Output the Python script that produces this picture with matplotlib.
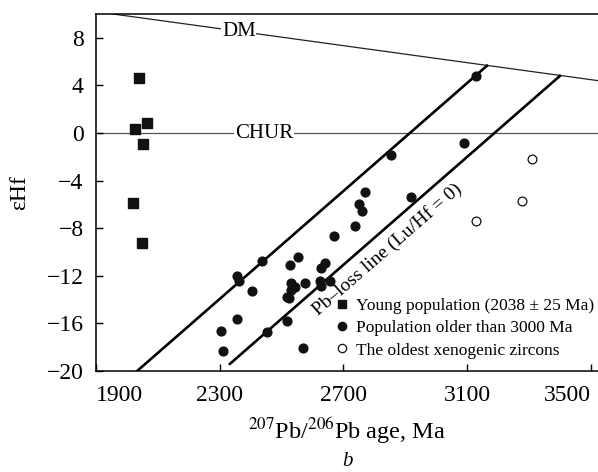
import numpy as np
import matplotlib
matplotlib.use("Agg")
import matplotlib.pyplot as plt
from matplotlib.lines import Line2D

plt.rcParams["font.family"] = ["Liberation Serif", "DejaVu Serif"]
plt.rcParams["mathtext.fontset"] = "stix"

# young population (squares)
young_age = [2039, 2027, 2065, 2053, 2021, 2048]
young_ehf = [4.6, 0.34, 0.84, -0.9, -5.9, -9.25]

# population older than 3000 Ma (filled circles)
old_age = [3128, 3091, 2853, 2919, 2769, 2750, 2761, 2737, 2670, 2553,
           2527, 2641, 2626, 2530, 2544, 2531, 2575, 2625, 2627, 2657,
           2517, 2525, 2519, 2570, 2438, 2357, 2363, 2403, 2355, 2452,
           2304, 2309]
old_ehf = [4.8, -0.86, -1.83, -5.4, -4.98, -5.93, -6.52, -7.8, -8.64, -10.42,
           -11.1, -10.95, -11.37, -12.6, -12.95, -13.2, -12.62, -12.4, -12.85, -12.4,
           -13.8, -13.85, -15.83, -18.05, -10.75, -11.98, -12.43, -13.24, -15.6, -16.69,
           -16.66, -18.36]

# oldest xenogenic zircons (open circles)
xeno_age = [3309, 3278, 3130]
xeno_ehf = [-2.2, -5.68, -7.4]

# reference lines
dm_age = [1955, 3523]
dm_ehf = [10.0, 4.4]
loss1_age = [2033, 3164]
loss1_ehf = [-20.0, 5.65]
loss2_age = [2333, 3400]
loss2_ehf = [-19.4, 4.8]

xticks = [1900, 2300, 2700, 3100, 3500]
yticks = [8, 4, 0, -4, -8, -12, -16, -20]

fig = plt.figure(figsize=(5.98, 4.72), dpi=100)
ax = fig.add_axes([96 / 598, 1 - 371 / 472, 502 / 598, 357 / 472])

ax.axhline(0, color="#555555", lw=0.9, zorder=1)
ax.plot(dm_age, dm_ehf, color="#222222", lw=0.9, zorder=1)
ax.plot(loss1_age, loss1_ehf, color="black", lw=1.9, zorder=2)
ax.plot(loss2_age, loss2_ehf, color="black", lw=1.9, zorder=2)

ax.text(2362, 8.5, "DM", ha="center", va="center", fontsize=15,
        bbox=dict(facecolor="white", edgecolor="none", pad=0.5), zorder=3)
ax.text(2443, 0, "CHUR", ha="center", va="center", fontsize=15,
        bbox=dict(facecolor="white", edgecolor="none", pad=0.5), zorder=3)
ax.text(2843, -9.75, "Pb–loss line (Lu/Hf = 0)", ha="center", va="center",
        rotation=41, fontsize=14, zorder=3)

ax.scatter(young_age, young_ehf, marker="s", s=45, color="#111111", zorder=4)
ax.scatter(old_age, old_ehf, marker="o", s=40, color="#111111", zorder=4)
ax.scatter(xeno_age, xeno_ehf, marker="o", s=40, facecolor="white",
           edgecolor="#111111", linewidths=0.9, zorder=4)

handles = [
    Line2D([], [], ls="none", marker="s", ms=6, color="#111111"),
    Line2D([], [], ls="none", marker="o", ms=6, color="#111111"),
    Line2D([], [], ls="none", marker="o", ms=6, mfc="white", mec="#111111", mew=0.9),
]
labels = ["Young population (2038 ± 25 Ma)",
          "Population older than 3000 Ma",
          "The oldest xenogenic zircons"]
ax.legend(handles, labels, loc="lower left", bbox_to_anchor=(0.477, 0.035),
          frameon=False, fontsize=12.5, handlelength=0.8, handletextpad=0.4,
          labelspacing=0.35, borderpad=0, borderaxespad=0)

ax.set_xlim(1900, 3523)
ax.set_ylim(-20, 10)
ax.set_xticks(xticks)
ax.set_yticks(yticks)
ax.set_yticklabels([str(v).replace("-", "\u2212") for v in yticks])
ax.tick_params(direction="in", length=5, width=1, labelsize=17)
ax.tick_params(axis="x", pad=10)
ax.tick_params(axis="y", pad=9)
xl = ax.get_xticklabels()
xl[0].set_ha("left")
xl[-1].set_ha("right")

for s in ["left", "bottom", "top"]:
    ax.spines[s].set_linewidth(1.1)
ax.spines["right"].set_visible(False)

ax.set_xlabel(r"$^{207}$Pb/$^{206}$Pb age, Ma", fontsize=17.5, labelpad=7)
ax.set_ylabel("εHf", fontsize=17, labelpad=12)
fig.text(347 / 598, 1 - 466 / 472, "b", style="italic", fontsize=15,
         ha="center", va="baseline")

fig.savefig("out.png", dpi=100)
